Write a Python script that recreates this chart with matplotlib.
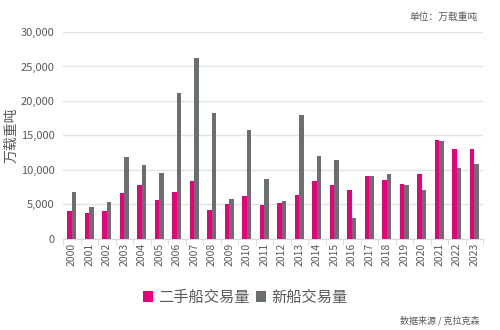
import matplotlib
matplotlib.use('Agg')
import matplotlib.pyplot as plt
import numpy as np
from matplotlib.ticker import FuncFormatter

plt.rcParams['font.family'] = ['Noto Sans CJK SC', 'DejaVu Sans']

years = [str(y) for y in range(2000, 2024)]
secondhand = [4010, 3720, 4010, 6720, 7870, 5700, 6860, 8360, 4250, 5020, 6180, 4880,
              5220, 6380, 8410, 7830, 7150, 9180, 8500, 7920, 9420, 14300, 13000, 13000]
newbuild = [6860, 4640, 5410, 11880, 10770, 9570, 21160, 26280, 18210, 5800, 15750, 8700,
            5460, 17920, 11980, 11500, 3000, 9180, 9470, 7830, 7150, 14150, 10340, 10870]

pink = '#E6007E'
grey = '#6D6E71'
txt = '#595959'

fig = plt.figure(figsize=(5, 3.3), dpi=100)
ax = fig.add_axes([0.126, 0.276, 0.84, 0.627])

x = np.arange(len(years))
w = 0.25
ax.bar(x - w / 2, secondhand, w, color=pink, label='二手船交易量', zorder=3)
ax.bar(x + w / 2, newbuild, w, color=grey, label='新船交易量', zorder=3)

ax.set_xlim(-0.5, len(years) - 0.5)
ax.set_ylim(0, 30000)
ax.set_yticks(range(0, 30001, 5000))
ax.yaxis.set_major_formatter(FuncFormatter(lambda v, p: f'{int(v):,}'))
ax.grid(axis='y', color='#E3E3E3', linewidth=1, zorder=0)

ax.set_xticks(x)
ax.set_xticklabels(years, rotation=90, fontsize=7.5, color=txt)
ax.set_xticks(np.arange(-0.5, len(years)), minor=True)
ax.tick_params(axis='x', which='major', length=0, pad=3)
ax.tick_params(axis='x', which='minor', length=4, color='#D9D9D9')
ax.tick_params(axis='y', length=0, labelsize=8, labelcolor=txt, pad=6)

for s in ['top', 'right', 'left']:
    ax.spines[s].set_visible(False)
ax.spines['bottom'].set_color('#D9D9D9')

ax.set_ylabel('万载重吨', fontsize=10, color=txt)
ax.yaxis.set_label_coords(-0.105, 0.5)

fig.legend(loc='center', bbox_to_anchor=(0.49, 0.1), ncol=2, frameon=False,
           fontsize=11, handlelength=0.7, handleheight=0.7, handletextpad=0.3,
           columnspacing=0.4, labelcolor=txt)

fig.text(0.955, 0.965, '单位：万载重吨', ha='right', va='top', fontsize=7, color=txt)
fig.text(0.958, 0.015, '数据来源 / 克拉克森', ha='right', va='bottom', fontsize=6.5, color=txt)

fig.savefig('out.png', dpi=100)
